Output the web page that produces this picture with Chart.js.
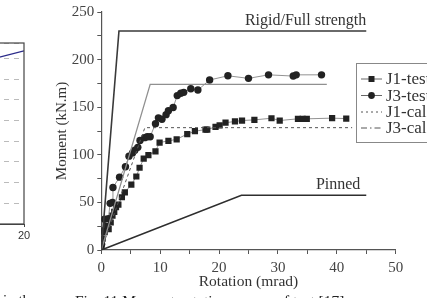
<!DOCTYPE html>
<html>
<head>
<meta charset="utf-8">
<script src="https://cdn.jsdelivr.net/npm/chart.js@4.4.1/dist/chart.umd.min.js"></script>
<style>
  html, body { margin: 0; padding: 0; background: #fff; overflow: hidden; }
  body { width: 427px; height: 298px; position: relative; }
  #main { position: absolute; left: 0; top: 0; width: 427px; height: 298px; }
  #side { position: absolute; left: 0; top: 0; width: 32px; height: 298px; overflow: hidden; }
  #sideInner { position: absolute; left: -206px; top: 0; width: 240px; height: 298px; }
  .cap { position: absolute; top: 293px; font: 15px "Liberation Serif", serif; color: #222;
         line-height: 15px; white-space: nowrap; }
</style>
</head>
<body>
<div id="side"><div id="sideInner"><canvas id="sideChart"></canvas></div></div>
<div id="main"><canvas id="mainChart"></canvas></div>
<div class="cap" style="left:3px">in the</div>
<div class="cap" style="left:75px;font-size:15.5px">Fig. 11 Moment-rotation curves of test [17]</div>
<script>
// ------------------------------------------------------------
// Moment-rotation curves: J1/J3 test points, J1/J3 calculated
// bilinear curves, plus rigid and pinned boundary lines.
// ------------------------------------------------------------

// J1 test (squares)
const rotJ1 = [0.05, 0.23, 0.57, 1.0, 1.25, 1.6, 1.9, 2.2, 2.5, 2.9, 3.5, 4.0, 5.1, 5.95, 6.5, 7.2, 8.0,
  9.2, 9.9, 11.4, 12.8, 14.6, 15.9, 17.7, 18.0, 19.4, 20.1, 21.1, 22.7, 23.9, 26.0, 28.9, 30.3,
  33.4, 34.2, 34.9, 39.2, 41.6];
const momJ1 = [4, 11.9, 18.7, 25, 22, 28.9, 36, 40, 44.9, 47.6, 55.4, 60.5, 68.7, 77.2, 86.4, 95.9, 99.7,
  103.7, 112.9, 114.6, 116.3, 121.8, 124.8, 126.5, 126.5, 129.3, 131, 133.7, 135, 136, 136.7, 138.4, 136,
  137.8, 137.8, 137.8, 138.5, 138];

// J3 test (circles)
const rotJ3 = [0.05, 0.2, 0.57, 1.2, 1.5, 1.9, 1.98, 3.1, 4.1, 4.7, 5.3, 5.7, 6.2, 6.57, 7.36, 7.8, 8.3,
  9.2, 9.7, 10.3, 11.0, 11.4, 12.2, 12.9, 13.5, 14.0, 15.2, 16.4, 18.4, 21.5, 25.0, 28.4, 32.6, 33.1, 37.4];
const momJ3 = [6, 20, 32.3, 33, 49, 50, 65.6, 76.5, 87.4, 98.6, 102, 104.8, 107.8, 115, 118, 119, 119,
  132.7, 138.8, 137.4, 142.2, 146.3, 149.7, 162.2, 164.6, 165.6, 169.4, 168, 178.6, 183, 180.3, 184, 182.7, 184, 184];

// calculated / boundary curves
const j1CalRot = [0, 7.4, 42.6],  j1CalMom = [0, 128.5, 128.5];
const j3CalRot = [0, 8.3, 38.3],  j3CalMom = [0, 174, 174];
const rigidRot = [0, 3, 45],      rigidMom = [0, 230, 230];
const pinnedRot = [0, 23.8, 45],  pinnedMom = [0, 57.5, 57.5];

const legendLabels = ["J1-test", "J3-test", "J1-cal", "J3-cal"];
const xTitle = "Rotation (mrad)";
const yTitle = "Moment (kN.m)";

// neighbouring figure (cut off at the left edge)
const sideRot = [16, 20];
const sideVal = [7.87, 8.37];

const pts = (xs, ys) => xs.map((v, i) => ({ x: v, y: ys[i] }));
const SERIF = '"Liberation Serif", "Times New Roman", serif';

const line = (data, color, width, dash) => ({
  data, showLine: true, borderColor: color, borderWidth: width, borderDash: dash || [],
  pointRadius: 0, fill: false, tension: 0,
});

const datasets = [
  line(pts(rigidRot, rigidMom), "#3a3a3a", 1.6),
  line(pts(pinnedRot, pinnedMom), "#2e2e2e", 1.6),
  line(pts(j3CalRot, j3CalMom), "#909090", 1.3),
  line(pts(j1CalRot, j1CalMom), "#555", 1, [3, 3]),
  { data: pts(rotJ1, momJ1), showLine: true, borderColor: "#777", borderWidth: 0.8,
    pointStyle: "rect", pointRadius: 4.4, pointBackgroundColor: "#222", pointBorderWidth: 0 },
  { data: pts(rotJ3, momJ3), showLine: true, borderColor: "#777", borderWidth: 0.8,
    pointStyle: "circle", pointRadius: 3.7, pointBackgroundColor: "#222", pointBorderWidth: 0 },
];

// text labels and boxed legend
const annotations = {
  id: "annotations",
  afterDatasetsDraw(chart) {
    const { ctx, scales: { x, y } } = chart;
    ctx.save();
    ctx.font = "16px " + SERIF;
    ctx.fillStyle = "#333";
    ctx.textAlign = "right";
    ctx.textBaseline = "alphabetic";
    ctx.fillText("Rigid/Full strength", x.getPixelForValue(45), y.getPixelForValue(rigidMom[2]) - 6);
    ctx.fillText("Pinned", x.getPixelForValue(44), y.getPixelForValue(pinnedMom[2]) - 6);

    // legend box
    const bx = 356.5, by = 63.5;
    ctx.fillStyle = "#fff";
    ctx.fillRect(bx, by, 90, 79);
    ctx.strokeStyle = "#888";
    ctx.lineWidth = 1;
    ctx.strokeRect(bx, by, 90, 79);
    const rows = [79, 95.5, 112, 128];
    ctx.textAlign = "left";
    ctx.textBaseline = "middle";
    ctx.font = "17px " + SERIF;
    rows.forEach((ry, i) => {
      ctx.strokeStyle = i < 2 ? "#666" : "#555";
      ctx.lineWidth = 1;
      ctx.setLineDash(i === 2 ? [2, 3] : i === 3 ? [6, 3, 1.5, 3] : []);
      ctx.beginPath();
      ctx.moveTo(361, ry);
      ctx.lineTo(382, ry);
      ctx.stroke();
      ctx.setLineDash([]);
      ctx.fillStyle = "#222";
      if (i === 0) ctx.fillRect(368.5, ry - 3, 6, 6);
      if (i === 1) { ctx.beginPath(); ctx.arc(371.5, ry, 3.4, 0, Math.PI * 2); ctx.fill(); }
      ctx.fillStyle = "#333";
      ctx.fillText(legendLabels[i], 386, ry + 1);
    });
    ctx.restore();
  },
};

new Chart(document.getElementById("mainChart"), {
  type: "scatter",
  data: { datasets },
  options: {
    responsive: true, maintainAspectRatio: false, animation: false,
    layout: { padding: { left: 0, top: 5, right: 31.3, bottom: 0 } },
    plugins: { legend: { display: false }, tooltip: { enabled: false } },
    scales: {
      x: {
        type: "linear", min: 0, max: 50,
        afterFit: s => { s.height = 48; },
        ticks: { stepSize: 5, color: "#444", padding: 5, font: { family: SERIF, size: 15 },
                 callback: v => (v % 10 === 0 ? v : "") },
        grid: { drawOnChartArea: false, tickLength: 4, color: "#555" },
        border: { color: "#555", width: 1.2 },
        title: { display: true, text: xTitle, color: "#333", font: { family: SERIF, size: 15.5 },
                 padding: { top: 0, bottom: 7 } },
      },
      y: {
        min: 0, max: 250,
        afterFit: s => { s.width = 101.3; },
        ticks: { stepSize: 25, color: "#444", padding: 3, font: { family: SERIF, size: 15 },
                 callback: v => (v % 50 === 0 ? v : "") },
        grid: { drawOnChartArea: false, tickLength: 4, color: "#555" },
        border: { color: "#555", width: 1.2 },
        title: { display: true, text: yTitle, color: "#333", font: { family: SERIF, size: 15 },
                 padding: { top: 53, bottom: 0 } },
      },
    },
  },
  plugins: [annotations],
});

// frame around the neighbouring figure
const frame = {
  id: "frame",
  afterDraw(chart) {
    const { ctx, chartArea: a } = chart;
    ctx.save();
    ctx.strokeStyle = "#444";
    ctx.lineWidth = 1.2;
    ctx.strokeRect(a.left, a.top, a.right - a.left, a.bottom - a.top);
    ctx.restore();
  },
};

new Chart(document.getElementById("sideChart"), {
  type: "scatter",
  data: { datasets: [line(pts(sideRot, sideVal), "#2b2b8a", 1.2)] },
  options: {
    responsive: true, maintainAspectRatio: false, animation: false,
    layout: { padding: { left: 30, top: 43, right: 10, bottom: 0 } },
    plugins: { legend: { display: false }, tooltip: { enabled: false } },
    scales: {
      x: {
        type: "linear", min: 0, max: 20,
        afterFit: s => { s.height = 74; },
        ticks: { stepSize: 5, color: "#333", padding: 2, font: { family: '"Liberation Sans", sans-serif', size: 11 } },
        grid: { drawOnChartArea: false, tickLength: 3, color: "#444" },
        border: { color: "#444" },
      },
      y: {
        min: 0, max: 8.75,
        afterFit: s => { s.width = 0; },
        ticks: { display: false, stepSize: 1 },
        grid: { color: "#bbb", drawTicks: false },
        border: { display: false, dash: [5, 5] },
      },
    },
  },
  plugins: [frame],
});
</script>
</body>
</html>
